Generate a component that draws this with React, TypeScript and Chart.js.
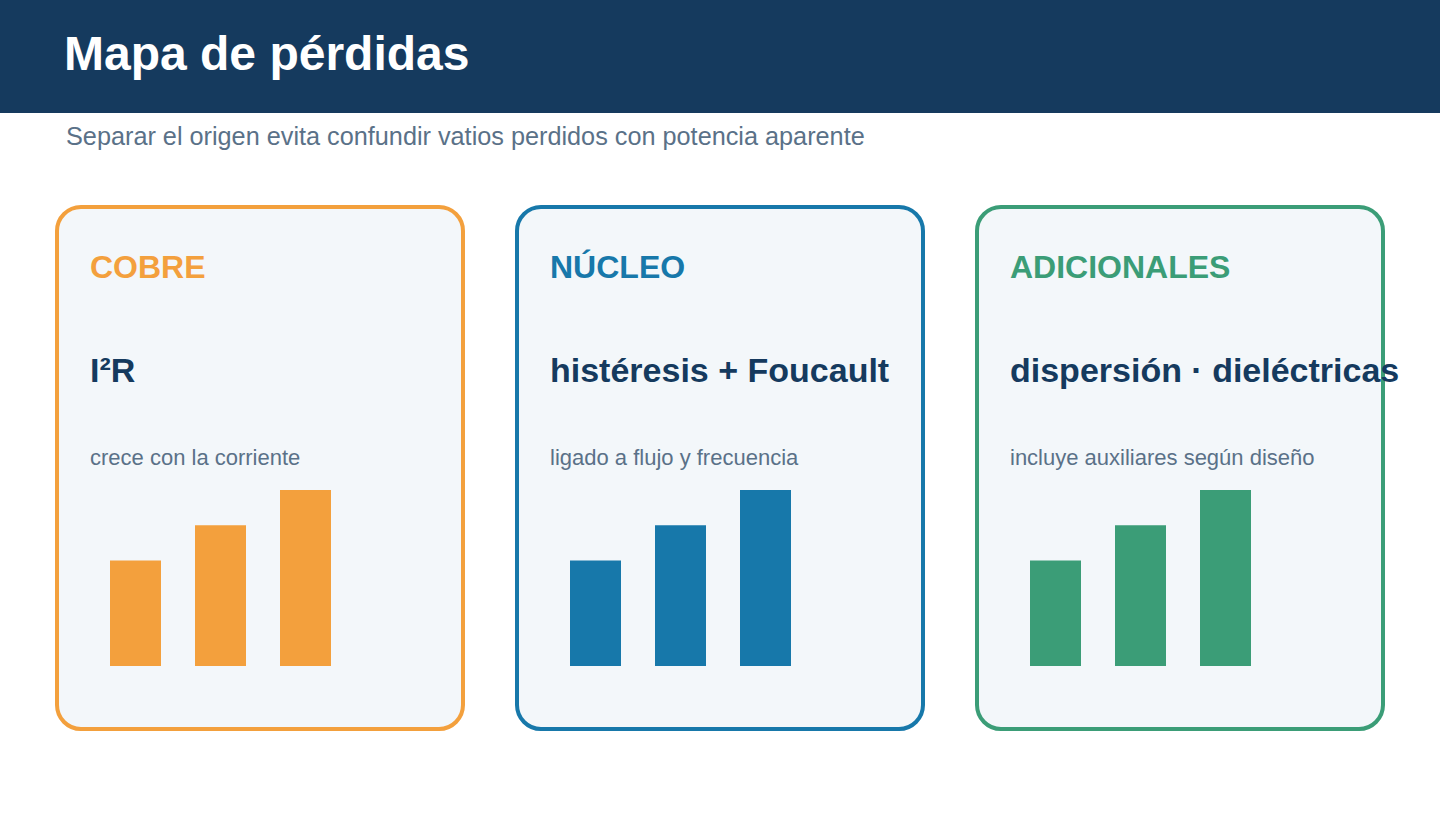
import { useEffect, useRef } from 'react';
import { Chart, registerables } from 'chart.js';

Chart.register(...registerables);

const FONT = '"Liberation Sans", Arial, Helvetica, sans-serif';

const title = 'Mapa de pérdidas';
const subtitle = 'Separar el origen evita confundir vatios perdidos con potencia aparente';

const cardLabels = ['COBRE', 'NÚCLEO', 'ADICIONALES'];
const cardFormulas = ['I²R', 'histéresis + Foucault', 'dispersión · dieléctricas'];
const cardNotes = ['crece con la corriente', 'ligado a flujo y frecuencia', 'incluye auxiliares según diseño'];
const cardColors = ['#f3a03d', '#1778aa', '#3b9d77'];

// barras decorativas, misma escala en las tres tarjetas
const barCategories = ['a', 'b', 'c'];
const barValues = [3, 4, 5];
const barMax = 5;

function MiniBars({ color }: { color: string }) {
  const chartRef = useRef<HTMLCanvasElement>(null);
  const chartInstance = useRef<Chart | null>(null);

  useEffect(() => {
    if (!chartRef.current) return;
    if (chartInstance.current) chartInstance.current.destroy();

    chartInstance.current = new Chart(chartRef.current, {
      type: 'bar',
      data: {
        labels: barCategories,
        datasets: [
          {
            data: barValues,
            backgroundColor: color,
            borderWidth: 0,
            barPercentage: 0.6,
            categoryPercentage: 1,
          },
        ],
      },
      options: {
        responsive: true,
        maintainAspectRatio: false,
        animation: false,
        layout: { padding: 0 },
        plugins: {
          legend: { display: false },
          tooltip: { enabled: false },
        },
        scales: {
          x: { display: false },
          y: { display: false, min: 0, max: barMax },
        },
      },
    });

    return () => {
      if (chartInstance.current) {
        chartInstance.current.destroy();
        chartInstance.current = null;
      }
    };
  }, [color]);

  return <canvas ref={chartRef} />;
}

export default function App() {
  return (
    <div
      style={{
        position: 'absolute',
        left: 0,
        top: 0,
        width: 1440,
        height: 840,
        background: '#ffffff',
        fontFamily: FONT,
        overflow: 'hidden',
      }}
    >
      <div style={{ position: 'absolute', left: 0, top: 0, width: 1440, height: 113, background: '#153a5e' }} />
      <div
        style={{
          position: 'absolute',
          left: 64,
          top: 30,
          fontSize: 48,
          lineHeight: '48px',
          fontWeight: 700,
          color: '#ffffff',
          whiteSpace: 'nowrap',
        }}
      >
        {title}
      </div>
      <div
        style={{
          position: 'absolute',
          left: 66,
          top: 124.3,
          fontSize: 25.25,
          lineHeight: '25.25px',
          color: '#5a7188',
          whiteSpace: 'nowrap',
        }}
      >
        {subtitle}
      </div>

      {cardLabels.map((label, i) => (
        <div
          key={label}
          style={{
            position: 'absolute',
            left: 55 + i * 460,
            top: 205,
            width: 410,
            height: 526,
            boxSizing: 'border-box',
            border: `4px solid ${cardColors[i]}`,
            borderRadius: 26,
            background: '#f3f7fa',
          }}
        >
          <div
            style={{
              position: 'absolute',
              left: 31,
              top: 42,
              fontSize: 32,
              lineHeight: '32px',
              fontWeight: 700,
              color: cardColors[i],
              whiteSpace: 'nowrap',
            }}
          >
            {label}
          </div>
          <div
            style={{
              position: 'absolute',
              left: 31,
              top: 144,
              fontSize: 34,
              lineHeight: '34px',
              fontWeight: 700,
              color: '#153a5e',
              whiteSpace: 'nowrap',
            }}
          >
            {cardFormulas[i]}
          </div>
          <div
            style={{
              position: 'absolute',
              left: 31,
              top: 237.5,
              fontSize: 22,
              lineHeight: '22px',
              color: '#5a7188',
              whiteSpace: 'nowrap',
            }}
          >
            {cardNotes[i]}
          </div>
          <div style={{ position: 'absolute', left: 34, top: 281, width: 255, height: 176 }}>
            <MiniBars color={cardColors[i]} />
          </div>
        </div>
      ))}
    </div>
  );
}
